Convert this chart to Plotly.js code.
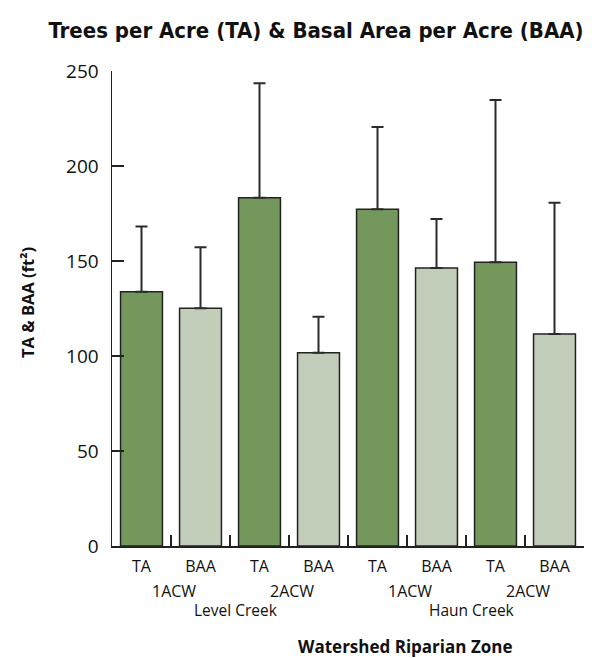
<!DOCTYPE html>
<html>
<head>
<meta charset="utf-8">
<script src="https://cdn.plot.ly/plotly-3.0.1.min.js"></script>
<style>
html,body{margin:0;padding:0;background:#fff;}
#chart{width:603px;height:658px;}
.gtitle{font-stretch:condensed !important;}
</style>
</head>
<body>
<div id="chart"></div>
<script>
// Data
const barLabels = ["TA", "BAA", "TA", "BAA", "TA", "BAA", "TA", "BAA"];
const zoneLabels = ["1ACW", "2ACW", "1ACW", "2ACW"];
const creekLabels = ["Level Creek", "Haun Creek"];
const values = [133.8, 125.1, 183.3, 101.7, 177.2, 146.3, 149.3, 111.6];
const errUpper = [168.1, 157.2, 243.5, 120.7, 220.5, 172.1, 234.7, 180.7];
const measure = ["TA", "BAA", "TA", "BAA", "TA", "BAA", "TA", "BAA"];

const colorMap = {TA: "#74985c", BAA: "#c1cdb8"};
const xs = values.map((v, i) => i);
const errs = values.map((v, i) => errUpper[i] - v);

const FONT = "Open Sans, Noto Sans, sans-serif";

const trace = {
  type: "bar",
  x: xs,
  y: values,
  width: 0.71,
  marker: {
    color: measure.map(m => colorMap[m]),
    line: {color: "#222222", width: 1.5}
  },
  error_y: {
    type: "data",
    symmetric: false,
    array: errs,
    arrayminus: values.map(() => 0),
    color: "#2b2b2b",
    thickness: 2,
    width: 6
  },
  hoverinfo: "skip",
  showlegend: false
};

// dummy trace for boundary-tick axis
const dummy = {type: "scatter", x: [0], y: [0], xaxis: "x2", yaxis: "y", mode: "markers",
  marker: {opacity: 0}, hoverinfo: "skip", showlegend: false};

const annotations = [];
zoneLabels.forEach((t, i) => {
  annotations.push({text: t, x: 2 * i + 0.55, xref: "x", y: (546 - 591) / 475, yref: "paper",
    showarrow: false, xanchor: "center", yanchor: "middle", font: {family: FONT, size: 16, color: "#111"}});
});
creekLabels.forEach((t, i) => {
  annotations.push({text: t, x: 4 * i + 1.6, xref: "x", y: (546 - 610) / 475, yref: "paper",
    showarrow: false, xanchor: "center", yanchor: "middle", font: {family: FONT, size: 15.5, color: "#111"}});
});
annotations.push({text: "<b>Watershed Riparian Zone</b>", x: (405 - 112) / 472, xref: "paper",
  y: (546 - 646) / 475, yref: "paper", showarrow: false, xanchor: "center", yanchor: "middle",
  font: {family: FONT, size: 17, color: "#111"}});
annotations.push({text: "<b>TA & BAA (ft²)</b>", x: (27 - 112) / 472, xref: "paper",
  y: (546 - 303) / 475, yref: "paper", showarrow: false, textangle: -90, xanchor: "center", yanchor: "middle",
  font: {family: FONT, size: 16.5, color: "#111"}});

const layout = {
  width: 603,
  height: 658,
  margin: {l: 112, r: 19, t: 71, b: 112},
  paper_bgcolor: "#ffffff",
  plot_bgcolor: "#ffffff",
  title: {
    text: "<b>Trees per Acre (TA) & Basal Area per Acre (BAA)</b>",
    x: 316 / 603, xref: "container", xanchor: "center",
    y: 1 - 30 / 658, yref: "container", yanchor: "middle",
    font: {family: "DejaVu Sans, sans-serif", size: 22, color: "#111"}
  },
  xaxis: {
    range: [-0.5, 7.5],
    tickmode: "array",
    tickvals: xs,
    ticktext: barLabels,
    ticks: "",
    showline: true,
    linecolor: "#222",
    linewidth: 1.5,
    showgrid: false,
    zeroline: false,
    fixedrange: true,
    ticklabelstandoff: 5,
    tickfont: {family: FONT, size: 16, color: "#111"}
  },
  xaxis2: {
    overlaying: "x",
    range: [-0.5, 7.5],
    tickmode: "array",
    tickvals: [-0.5, 0.5, 1.5, 2.5, 3.5, 4.5, 5.5, 6.5, 7.5],
    ticks: "inside",
    ticklen: 11,
    tickwidth: 1.5,
    tickcolor: "#222",
    showticklabels: false,
    showline: false,
    showgrid: false,
    zeroline: false,
    side: "bottom",
    anchor: "y"
  },
  yaxis: {
    range: [0, 250],
    tickvals: [0, 50, 100, 150, 200, 250],
    ticks: "inside",
    ticklen: 12,
    tickwidth: 1.5,
    tickcolor: "#222",
    showline: true,
    linecolor: "#222",
    linewidth: 1.5,
    showgrid: false,
    zeroline: false,
    ticklabelstandoff: 8,
    tickfont: {family: FONT, size: 19, color: "#111"}
  },
  annotations: annotations
};

Plotly.newPlot("chart", [trace, dummy], layout, {displayModeBar: false, staticPlot: true});
</script>
</body>
</html>
